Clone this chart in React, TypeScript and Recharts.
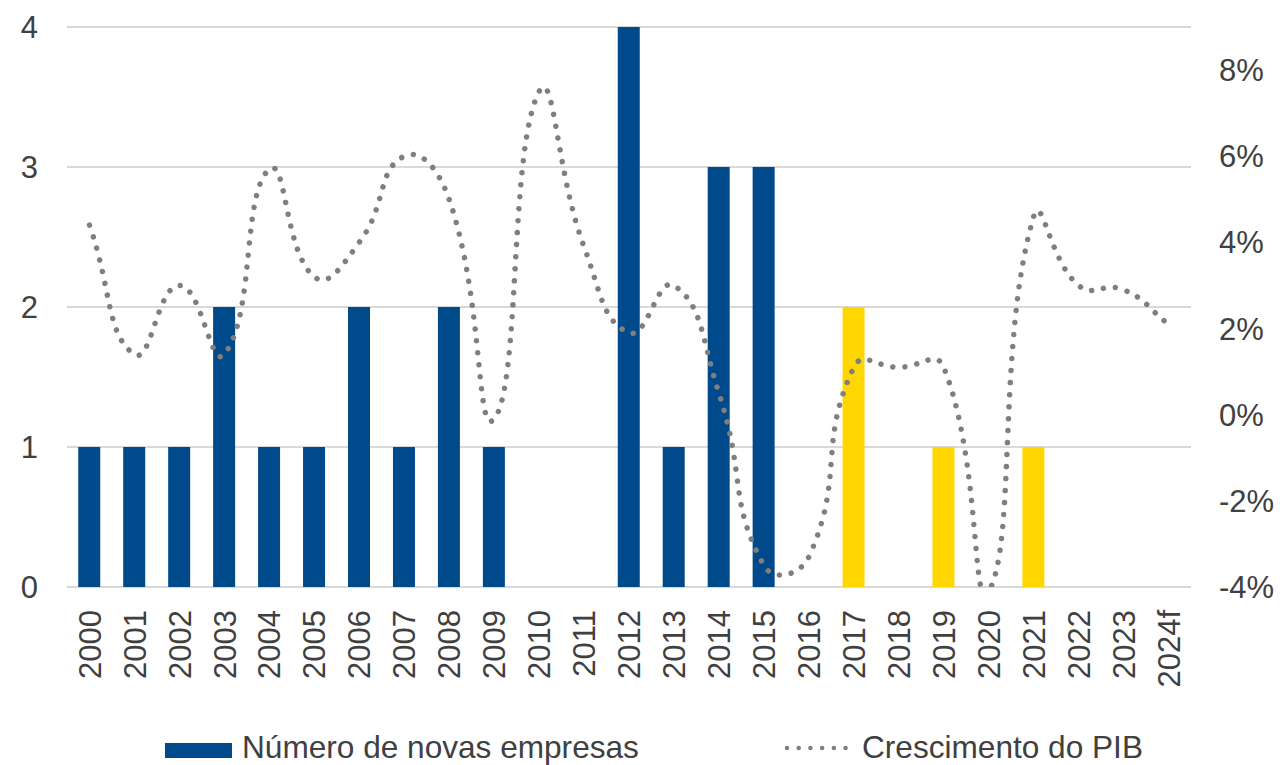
import { ComposedChart, Bar, Line, XAxis, YAxis, CartesianGrid, Legend, Cell } from "recharts";

const years = [
  "2000", "2001", "2002", "2003", "2004", "2005", "2006", "2007", "2008", "2009",
  "2010", "2011", "2012", "2013", "2014", "2015", "2016", "2017", "2018", "2019",
  "2020", "2021", "2022", "2023", "2024f",
];
const novasEmpresas = [1, 1, 1, 2, 1, 1, 2, 1, 2, 1, 0, 0, 4, 1, 3, 3, 0, 2, 0, 1, 0, 1, 0, 0, 0];
const crescimentoPib = [
  4.4, 1.4, 3.0, 1.4, 5.7, 3.2, 4.0, 6.0, 5.0, -0.1,
  7.5, 3.9, 1.9, 3.0, 0.5, -3.5, -3.3, 1.1, 1.1, 1.1,
  -4.1, 4.6, 3.0, 2.9, 2.1,
];
const leftTicks = [0, 1, 2, 3, 4];
const rightTicks = [-4, -2, 0, 2, 4, 6, 8];
// bars from 2016 onwards are drawn in yellow
const secondPeriodFrom = 2016;

const data = years.map((ano, i) => ({ ano, empresas: novasEmpresas[i], pib: crescimentoPib[i] }));

const BLUE = "#00498A";
const YELLOW = "#FFD600";
const GREY = "#7F7F7F";
const TEXT = "#404040";
const FONT = "'Liberation Sans', Arial, sans-serif";
const FS = 31;
const LEGEND_FS = 31.6;

// Excel-like smoothing: bezier controls scaled by neighbouring segment lengths
const smoothCurve = (ctx: any) => {
  let pts: number[][] = [];
  const T = 0.5;
  const dist = (a: number[], b: number[]) => Math.hypot(b[0] - a[0], b[1] - a[1]);
  return {
    areaStart() {},
    areaEnd() {},
    lineStart() {
      pts = [];
    },
    point(x: number, y: number) {
      pts.push([x, y]);
    },
    lineEnd() {
      const n = pts.length;
      if (!n) return;
      ctx.moveTo(pts[0][0], pts[0][1]);
      for (let i = 0; i < n - 1; i++) {
        const p0 = pts[Math.max(i - 1, 0)];
        const p1 = pts[i];
        const p2 = pts[i + 1];
        const p3 = pts[Math.min(i + 2, n - 1)];
        const d01 = dist(p0, p1), d12 = dist(p1, p2), d23 = dist(p2, p3);
        const k1 = (d12 / (d01 + d12 || 1)) * T;
        const k2 = (d12 / (d12 + d23 || 1)) * T;
        ctx.bezierCurveTo(
          p1[0] + (p2[0] - p0[0]) * k1,
          p1[1] + (p2[1] - p0[1]) * k1,
          p2[0] - (p3[0] - p1[0]) * k2,
          p2[1] - (p3[1] - p1[1]) * k2,
          p2[0],
          p2[1]
        );
      }
    },
  };
};

const YearTick = ({ x, y, payload }: any) => (
  <text
    x={x}
    y={y}
    transform={`rotate(-90 ${x} ${y})`}
    textAnchor="end"
    dy="0.36em"
    fill={TEXT}
    fontSize={FS}
    fontFamily={FONT}
  >
    {payload.value}
  </text>
);

const LegendBox = () => (
  <svg width={1280} height={40} style={{ display: "block" }}>
    <rect x={165} y={18} width={67} height={15} fill={BLUE} />
    <text x={242} y={33} fill={TEXT} fontSize={LEGEND_FS} fontFamily={FONT}>
      Número de novas empresas
    </text>
    <line
      x1={787}
      y1={23}
      x2={847}
      y2={23}
      stroke={GREY}
      strokeWidth={4.5}
      strokeLinecap="round"
      strokeDasharray="0.01 11.7"
    />
    <text x={862} y={33} fill={TEXT} fontSize={LEGEND_FS} fontFamily={FONT}>
      Crescimento do PIB
    </text>
  </svg>
);

export default function App() {
  const tickStyle = { fill: TEXT, fontSize: FS, fontFamily: FONT };
  return (
    <div style={{ position: "absolute", left: 0, top: 0, width: 1280, height: 765, background: "#fff" }}>
      <ComposedChart
        width={1280}
        height={765}
        data={data}
        margin={{ top: 27, right: 0, bottom: 0, left: 0 }}
        barCategoryGap="25%"
      >
        <CartesianGrid yAxisId="left" vertical={false} stroke="#D9D9D9" strokeWidth={2} />
        <XAxis
          dataKey="ano"
          interval={0}
          axisLine={false}
          tickLine={false}
          tickMargin={17}
          height={138}
          tick={<YearTick />}
        />
        <YAxis
          yAxisId="left"
          domain={[0, 4]}
          ticks={leftTicks}
          width={67}
          axisLine={false}
          tickLine={false}
          tickMargin={23}
          tick={tickStyle}
        />
        <YAxis
          yAxisId="right"
          orientation="right"
          domain={[-4, 9]}
          ticks={rightTicks}
          allowDataOverflow
          width={89}
          axisLine={false}
          tickLine={false}
          tickMargin={22}
          tick={{ ...tickStyle, textAnchor: "start" }}
          tickFormatter={(v: number) => `${v}%`}
        />
        <Legend
          verticalAlign="bottom"
          content={() => <LegendBox />}
          wrapperStyle={{ left: 0, bottom: 0, width: 1280, height: 40 }}
        />
        <Bar yAxisId="left" dataKey="empresas" name="Número de novas empresas" isAnimationActive={false}>
          {data.map((d) => (
            <Cell key={d.ano} fill={parseInt(d.ano, 10) >= secondPeriodFrom ? YELLOW : BLUE} />
          ))}
        </Bar>
        <Line
          yAxisId="right"
          dataKey="pib"
          name="Crescimento do PIB"
          type={smoothCurve as any}
          stroke={GREY}
          strokeWidth={5.5}
          strokeLinecap="round"
          strokeDasharray="0.01 12"
          dot={false}
          activeDot={false}
          isAnimationActive={false}
        />
      </ComposedChart>
    </div>
  );
}
